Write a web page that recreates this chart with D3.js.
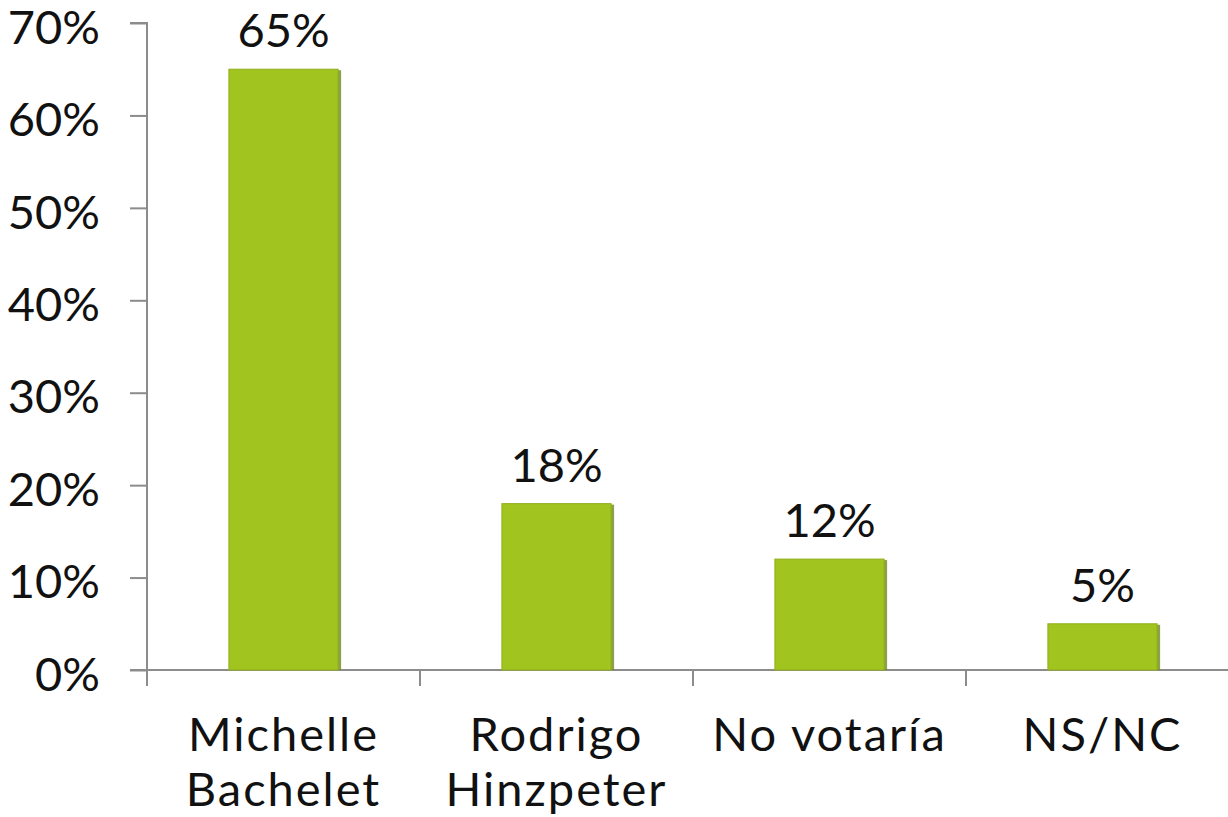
<!DOCTYPE html>
<html><head><meta charset="utf-8">
<script src="https://cdn.jsdelivr.net/npm/d3@7"></script>
<style>html,body{margin:0;padding:0;background:#fff;} svg{display:block;} text{font-family:"Lato","Open Sans",sans-serif;fill:#111;}</style>
</head><body>
<svg id="c" width="1228" height="817"></svg>
<script>
const categories = [["Michelle","Bachelet"],["Rodrigo","Hinzpeter"],["No votaría"],["NS/NC"]];
const values = [65, 18, 12, 5];
const yTicks = [0,10,20,30,40,50,60,70];

const svg = d3.select("#c");
const x0 = 147, x1 = 1239, yTop = 23, yBot = 670;
const FS = 47;
const x = d3.scaleBand().domain(d3.range(categories.length)).range([x0, x1]).paddingInner(0.6).paddingOuter(0.3);
const y = d3.scaleLinear().domain([0,70]).range([yBot, yTop]);

// y axis
const yAxis = svg.append("g").attr("transform",`translate(${x0},0)`)
  .call(d3.axisLeft(y).tickValues(yTicks).tickSize(17).tickPadding(30).tickFormat(d=>d+"%"));
yAxis.select(".domain").attr("stroke","#8c8c8c").attr("stroke-width",2).attr("d",`M-17,${yTop}H0V${yBot}`);
yAxis.selectAll(".tick line").attr("stroke","#8c8c8c").attr("stroke-width",2);
yAxis.selectAll(".tick text").attr("font-size",FS).attr("font-family","Lato, sans-serif").attr("fill","#111").attr("dy","0.43em");

// x axis
const xAxisG = svg.append("g");
xAxisG.append("line").attr("x1",x0-17).attr("x2",1228).attr("y1",yBot).attr("y2",yBot).attr("stroke","#8c8c8c").attr("stroke-width",2);
d3.range(categories.length+1).forEach(i=>{
  const xx = x0 + i*(x1-x0)/categories.length;
  xAxisG.append("line").attr("x1",xx).attr("x2",xx).attr("y1",yBot).attr("y2",yBot+16).attr("stroke","#8c8c8c").attr("stroke-width",2);
});

// bars
const bars = svg.append("g").selectAll("g").data(values).join("g");
bars.append("rect")
  .attr("x",(d,i)=>x(i)+3).attr("y",d=>y(d)+1).attr("width",x.bandwidth()).attr("height",d=>yBot-y(d)-1)
  .attr("fill","#6f8a1c").attr("opacity",0.8);
bars.append("rect")
  .attr("x",(d,i)=>x(i)).attr("y",d=>y(d)).attr("width",x.bandwidth()).attr("height",d=>yBot-y(d))
  .attr("fill","#a2c41e").attr("stroke","#8fae1a").attr("stroke-width",1);

// value labels
svg.append("g").selectAll("text").data(values).join("text")
  .attr("x",(d,i)=>x(i)+x.bandwidth()/2).attr("y",d=>y(d)-22)
  .attr("text-anchor","middle").attr("font-size",FS).text(d=>d+"%");

// category labels
const cl = svg.append("g").selectAll("text").data(categories).join("text")
  .attr("text-anchor","middle").attr("font-size",FS).attr("letter-spacing",2);
cl.each(function(lines,i){
  const t = d3.select(this);
  lines.forEach((ln,j)=>{
    t.append("tspan").attr("x",x(i)+x.bandwidth()/2).attr("y",751+j*55).text(ln);
  });
});
</script>
</body></html>
